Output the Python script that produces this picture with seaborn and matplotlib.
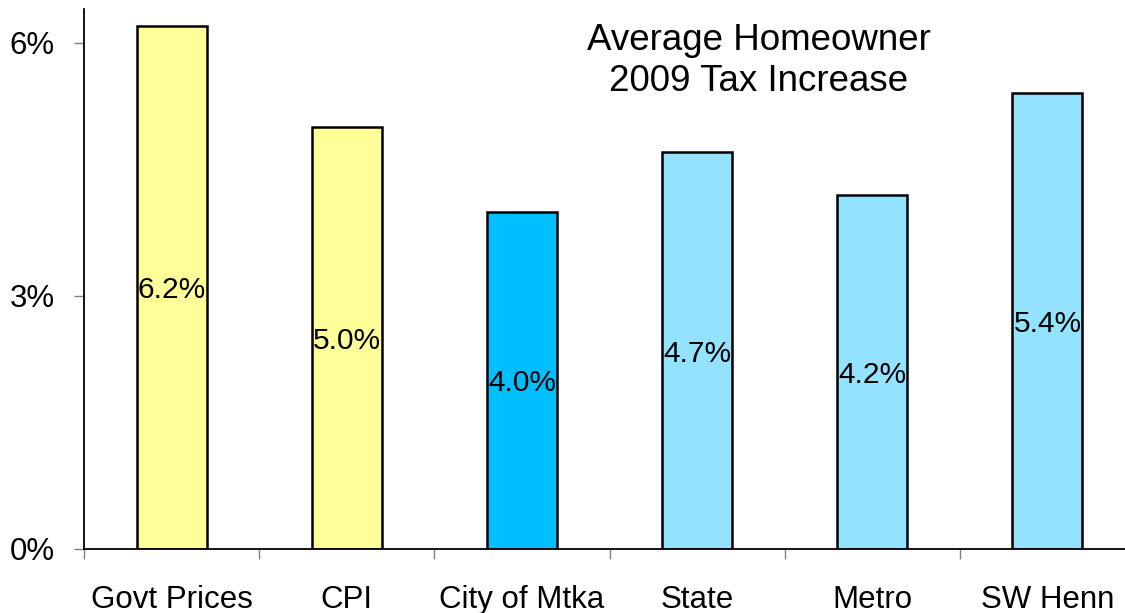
import pandas as pd
import seaborn as sns
import matplotlib.pyplot as plt
from matplotlib.ticker import FixedLocator

# chart data
categories = ['Govt Prices', 'CPI', 'City of Mtka', 'State', 'Metro', 'SW Henn']
increase_pct = [6.2, 5.0, 4.0, 4.7, 4.2, 5.4]
bar_colors = ['#FFFF99', '#FFFF99', '#00BFFF', '#93E3FF', '#93E3FF', '#93E3FF']
y_ticks = [0, 3, 6]
title_lines = ['Average Homeowner', '2009 Tax Increase']

sns.set_style('white')
plt.rcParams['font.family'] = ['Liberation Sans', 'DejaVu Sans']
plt.rcParams['text.color'] = 'black'
plt.rcParams['xtick.labelcolor'] = 'black'
plt.rcParams['ytick.labelcolor'] = 'black'

df = pd.DataFrame({'category': categories, 'increase': increase_pct})

fig = plt.figure(figsize=(11.25, 6.13), dpi=100)
ax = fig.add_axes([84 / 1125, 64 / 613, 1051 / 1125, 540 / 613])

sns.barplot(data=df, x='category', y='increase', hue='category',
            palette=bar_colors, legend=False, width=0.4,
            edgecolor='black', linewidth=1.8, saturation=1, ax=ax)

# value labels in the middle of each bar
for i, v in enumerate(increase_pct):
    ax.text(i, v / 2, f'{v:.1f}%', ha='center', va='center_baseline', fontsize=21.5)

ax.set_xlim(-0.5, len(categories) - 0.5)
ax.set_ylim(0, 6.4)
ax.set_yticks(y_ticks)
ax.set_yticklabels([f'{t}%' for t in y_ticks], fontsize=22.5)
ax.set_xlabel('')
ax.set_ylabel('')
ax.tick_params(axis='x', which='major', length=0, pad=26, labelsize=22.5)
ax.xaxis.set_minor_locator(FixedLocator([i - 0.5 for i in range(len(categories) + 1)]))
ax.tick_params(axis='x', which='minor', length=7, width=1, color='#808080', direction='out', bottom=True)
ax.tick_params(axis='y', length=7, width=1, color='#808080', direction='out', left=True, pad=14)

sns.despine(ax=ax)
for side in ['left', 'bottom']:
    ax.spines[side].set_color('black')
    ax.spines[side].set_linewidth(1.3)

fig.text(759 / 1125, 1 - 61 / 613, '\n'.join(title_lines), ha='center', va='center',
         fontsize=26.5, linespacing=1.2)

plt.savefig('out.png', dpi=100)
